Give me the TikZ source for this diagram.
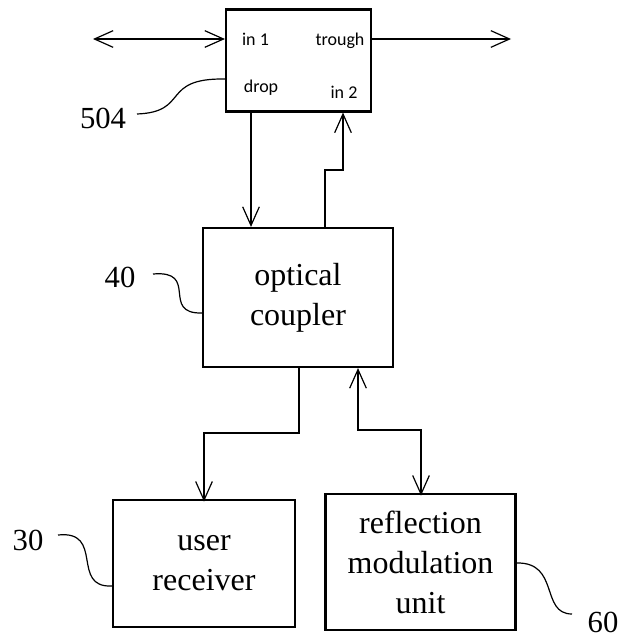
\documentclass[tikz,border=0pt]{standalone}
\usepackage{fontspec}
\setmainfont{Liberation Serif}
\newfontfamily\smallsans{Carlito}
\usetikzlibrary{arrows.meta}
\tikzset{
  box/.style={draw, line width=1.6pt, inner sep=0pt, align=center,
    font=\fontsize{24}{30}\selectfont},
  conn/.style={line width=0.9pt},
  tip/.style={-{Straight Barb[length=14pt,width=12.5pt,line width=0.9pt]}},
  dtip/.style={{Straight Barb[length=14pt,width=12.5pt,line width=0.9pt]}-{Straight Barb[length=14pt,width=12.5pt,line width=0.9pt]}},
  port/.style={anchor=base, inner sep=0pt, font=\smallsans\fontsize{13.5}{16}\selectfont},
  refnum/.style={inner sep=0pt, font=\fontsize{23}{26}\selectfont},
  leader/.style={line width=0.9pt}
}
\begin{document}
\begin{tikzpicture}[x=0.75pt,y=-0.75pt]
\useasboundingbox (0,0) rectangle (623,638);
% boxes
\node[box, minimum width=108.75pt, minimum height=76.5pt] (sw) at (298.5,60.5) {};
\node[box, minimum width=142.5pt, minimum height=104.25pt] (cp) at (298,297.5) {optical\\coupler};
\node[box, minimum width=136.5pt, minimum height=95.25pt] (ur) at (204,563.5) {user\\receiver};
\node[box, minimum width=142.5pt, minimum height=102pt] (rm) at (420.5,562) {reflection\\modulation\\unit};
% ports
\node[port] (pin1) at (255.5,46) {in 1};
\node[port] (ptr) at (340,46) {trough};
\node[port] (pdr) at (261,93) {drop};
\node[port] (pin2) at (344,99) {in 2};
% reference numbers
\node[refnum] (n504) at (103,118) {504};
\node[refnum] (n40) at (120,277) {40};
\node[refnum] (n30) at (28,540) {30};
\node[refnum] (n60) at (603,622) {60};
% coordinates
\coordinate (L) at (93,39);
\coordinate (R) at (511,39);
\coordinate (d) at (251,0);
\coordinate (a) at (325,170);
\coordinate (b) at (343,170);
\coordinate (c1) at (299,433);
\coordinate (c2) at (204,433);
\coordinate (e1) at (358,430);
\coordinate (e2) at (421,430);
% connectors
\draw[conn,dtip] (L) -- (L -| sw.west);
\draw[conn,tip] (R -| sw.east) -- (R);
\draw[conn,tip] (sw.south -| d) -- (cp.north -| d);
\draw[conn,tip] (cp.north -| a) -- (a) -- (b) -- (sw.south -| b);
\draw[conn,tip] (cp.south -| c1) -- (c1) -- (c2) -- ([yshift=-2pt]ur.north -| c2);
\draw[conn,dtip] (cp.south -| e1) -- (e1) -- (e2) -- ([yshift=-2pt]rm.north -| e2);
% leaders
\coordinate (l504) at (137,114);
\coordinate (l40) at (153,274);
\coordinate (l30) at (58,535);
\coordinate (l60) at (572,614);
\draw[leader] (l504) .. controls (190,112) and (160,78) .. (sw.west |- 0,79);
\draw[leader] (l40) .. controls (200,270) and (160,314) .. (cp.west |- 0,313);
\draw[leader] (l30) .. controls (105,530) and (70,588) .. (ur.west |- 0,586);
\draw[leader] (rm.east |- 0,563) .. controls (560,562) and (540,614) .. (l60);
\end{tikzpicture}
\end{document}
